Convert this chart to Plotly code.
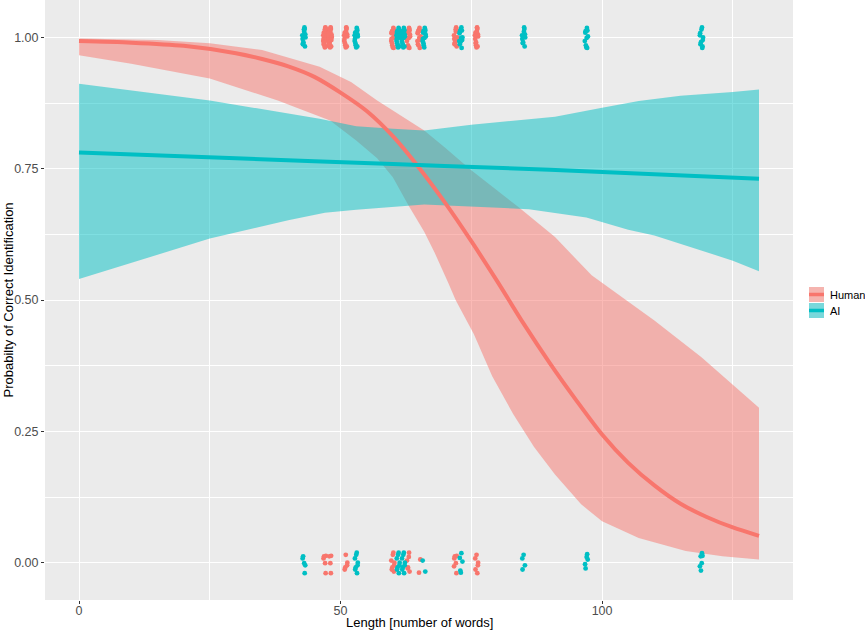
import plotly.graph_objects as go

# ---------------- data ----------------
# fitted mean curves
human_mean_x = [0, 10, 20, 30, 35, 40, 45, 50, 55, 60, 65, 70, 75, 80, 85, 90, 95, 100,
                105, 110, 115, 120, 125, 130]
human_mean_y = [0.993, 0.990, 0.984, 0.970, 0.959, 0.945, 0.925, 0.895, 0.860, 0.812, 0.752, 0.685,
                0.612, 0.535, 0.455, 0.380, 0.310, 0.244, 0.190, 0.147, 0.112, 0.087, 0.067, 0.051]
ai_mean_x = [0, 30, 60, 90, 130]
ai_mean_y = [0.781, 0.770, 0.759, 0.748, 0.731]

# confidence bands
human_up_x = [0, 15, 25, 35, 46, 52, 57, 62, 66, 70, 75, 84, 91, 98, 105, 110, 119, 130]
human_up_y = [0.998, 0.995, 0.989, 0.976, 0.944, 0.915, 0.880, 0.849, 0.823, 0.790, 0.747, 0.677,
              0.620, 0.547, 0.497, 0.461, 0.391, 0.295]
human_lo_x = [0, 10, 25, 38, 48, 53, 57, 60, 63, 66, 68, 70.5, 72, 75.5, 79, 83, 87, 91, 96, 100,
              107, 116, 123, 130]
human_lo_y = [0.966, 0.950, 0.922, 0.880, 0.842, 0.804, 0.770, 0.734, 0.680, 0.630, 0.590, 0.535,
              0.500, 0.435, 0.355, 0.283, 0.220, 0.168, 0.111, 0.079, 0.047, 0.022, 0.012, 0.006]
ai_up_x = [0, 10, 25, 46, 53, 60, 66, 75, 85, 91, 100, 107, 115, 125, 130]
ai_up_y = [0.912, 0.899, 0.880, 0.845, 0.831, 0.826, 0.823, 0.834, 0.843, 0.849, 0.866, 0.879,
           0.889, 0.896, 0.901]
ai_lo_x = [0, 25, 40, 47, 53, 66, 75, 86, 97, 105, 110, 116, 125, 130]
ai_lo_y = [0.540, 0.617, 0.652, 0.666, 0.672, 0.682, 0.678, 0.673, 0.657, 0.634, 0.623, 0.604,
           0.575, 0.555]

# observed responses: text length, number of correct (1) and incorrect (0) answers
human_len = [47, 48, 51, 60, 63, 65, 72, 76]
human_n_correct = [20, 20, 14, 16, 14, 14, 12, 14]
human_n_wrong = [5, 4, 5, 8, 6, 2, 6, 6]
ai_len = [43, 53, 61, 62, 66, 73, 85, 97, 119]
ai_n_correct = [12, 14, 16, 16, 14, 12, 10, 10, 10]
ai_n_wrong = [5, 8, 8, 8, 2, 5, 4, 5, 6]

# jitter offsets used when the points were drawn
y_jitter = [0.013, -0.007, 0.018, -0.015, 0.002, 0.009, -0.019, 0.006, -0.003, 0.016, -0.011, 0.011,
            -0.017, 0.004, 0.019, -0.009, 0.000, -0.013, 0.015, -0.005, 0.008, -0.020, 0.012, -0.001]
x_jitter = [0.2, -0.3, 0.1, -0.1, 0.3, -0.2, 0.0, 0.25, -0.25, 0.15, -0.15, 0.05]

x_ticks = [0, 50, 100]
y_ticks = [0, 0.25, 0.5, 0.75, 1.0]
y_tick_labels = ["0.00", "0.25", "0.50", "0.75", "1.00"]
groups = ["Human", "AI"]

# ---------------- styling ----------------
RED = "#F8766D"
TEAL = "#00BFC4"
RED_FILL = "rgba(248,118,109,0.5)"
TEAL_FILL = "rgba(0,191,196,0.5)"
FONT = "Liberation Sans, Arial, sans-serif"


def jitter_points(lengths, n_correct, n_wrong, start):
    xs, ys = [], []
    k = start
    for L, nc, nw in zip(lengths, n_correct, n_wrong):
        for outcome, n in ((1, nc), (0, nw)):
            for _ in range(n):
                xs.append(L + x_jitter[k % len(x_jitter)])
                ys.append(outcome + y_jitter[k % len(y_jitter)])
                k += 1
    return xs, ys


fig = go.Figure()


def band(xu, yu, xl, yl, color):
    fig.add_trace(go.Scatter(x=list(xu) + list(xl)[::-1], y=list(yu) + list(yl)[::-1],
                             mode="lines", fill="toself", fillcolor=color,
                             line=dict(width=0), hoverinfo="skip", showlegend=False))


band(human_up_x, human_up_y, human_lo_x, human_lo_y, RED_FILL)
band(ai_up_x, ai_up_y, ai_lo_x, ai_lo_y, TEAL_FILL)

fig.add_trace(go.Scatter(x=human_mean_x, y=human_mean_y, mode="lines",
                         line=dict(color=RED, width=4, shape="spline", smoothing=0.8),
                         showlegend=False))
fig.add_trace(go.Scatter(x=ai_mean_x, y=ai_mean_y, mode="lines",
                         line=dict(color=TEAL, width=4, shape="spline"),
                         showlegend=False))

hx, hy = jitter_points(human_len, human_n_correct, human_n_wrong, 0)
ax_, ay = jitter_points(ai_len, ai_n_correct, ai_n_wrong, 7)
fig.add_trace(go.Scatter(x=hx, y=hy, mode="markers",
                         marker=dict(color=RED, size=4.8, line=dict(width=0)), showlegend=False))
fig.add_trace(go.Scatter(x=ax_, y=ay, mode="markers",
                         marker=dict(color=TEAL, size=4.8, line=dict(width=0)), showlegend=False))

# ---------------- manual legend (ggplot style keys) ----------------
W, H = 865, 631
ML, MR, MT, MB = 45, 72, 0, 31
PW, PH = W - ML - MR, H - MT - MB


def px2paper_x(px):
    return (px - ML) / PW


def px2paper_y(py):
    return 1 - (py - MT) / PH


shapes = []
annotations = []
key_fills = ["#F5B4AF", "#79D8DB"]
key_lines = [RED, TEAL]
for i, g in enumerate(groups):
    top = 287 + i * 16
    shapes.append(dict(type="rect", xref="paper", yref="paper",
                       x0=px2paper_x(809), x1=px2paper_x(824),
                       y0=px2paper_y(top + 15), y1=px2paper_y(top),
                       fillcolor=key_fills[i], line=dict(width=0), layer="above"))
    shapes.append(dict(type="line", xref="paper", yref="paper",
                       x0=px2paper_x(809), x1=px2paper_x(824),
                       y0=px2paper_y(top + 7.5), y1=px2paper_y(top + 7.5),
                       line=dict(color=key_lines[i], width=3.5), layer="above"))
    annotations.append(dict(xref="paper", yref="paper", x=px2paper_x(828), y=px2paper_y(top + 7.5),
                            text=g, showarrow=False, xanchor="left", yanchor="middle",
                            font=dict(family=FONT, size=11, color="black")))

annotations.append(dict(xref="paper", yref="paper", x=0.5, y=0, yshift=-22,
                        text="Length [number of words]", showarrow=False,
                        xanchor="center", yanchor="middle",
                        font=dict(family=FONT, size=13, color="black")))
annotations.append(dict(xref="paper", yref="paper", x=0, y=0.5, xshift=-37.5,
                        text="Probabilty of Correct Identification", showarrow=False,
                        textangle=-90, xanchor="center", yanchor="middle",
                        font=dict(family=FONT, size=13, color="black")))

fig.update_layout(
    width=W, height=H,
    margin=dict(l=ML, r=MR, t=MT, b=MB, autoexpand=False),
    paper_bgcolor="white", plot_bgcolor="#EBEBEB",
    shapes=shapes, annotations=annotations,
    showlegend=False,
    font=dict(family=FONT),
)
fig.update_xaxes(range=[-6.5, 136.5], tickmode="array", tickvals=x_ticks,
                 ticktext=[str(v) for v in x_ticks],
                 ticks="outside", ticklen=3, tickwidth=1, tickcolor="#333333",
                 ticklabelstandoff=-4,
                 tickfont=dict(family=FONT, size=12.5, color="#4D4D4D"),
                 showgrid=True, gridcolor="white", gridwidth=1.1, zeroline=False,
                 showline=False, automargin=False,
                 minor=dict(tickmode="array", tickvals=[25, 75, 125], showgrid=True,
                            gridcolor="white", gridwidth=0.55, ticks=""))
fig.update_yaxes(range=[-0.0711, 1.0713], tickmode="array", tickvals=y_ticks,
                 ticktext=y_tick_labels,
                 ticks="outside", ticklen=3, tickwidth=1, tickcolor="#333333",
                 tickfont=dict(family=FONT, size=12.5, color="#4D4D4D"),
                 showgrid=True, gridcolor="white", gridwidth=1.1, zeroline=False,
                 showline=False, automargin=False,
                 minor=dict(tickmode="array", tickvals=[0.125, 0.375, 0.625, 0.875], showgrid=True,
                            gridcolor="white", gridwidth=0.55, ticks=""))

fig.write_html("out.html", config={"displayModeBar": False},
               post_script="document.body.style.margin='0';")
